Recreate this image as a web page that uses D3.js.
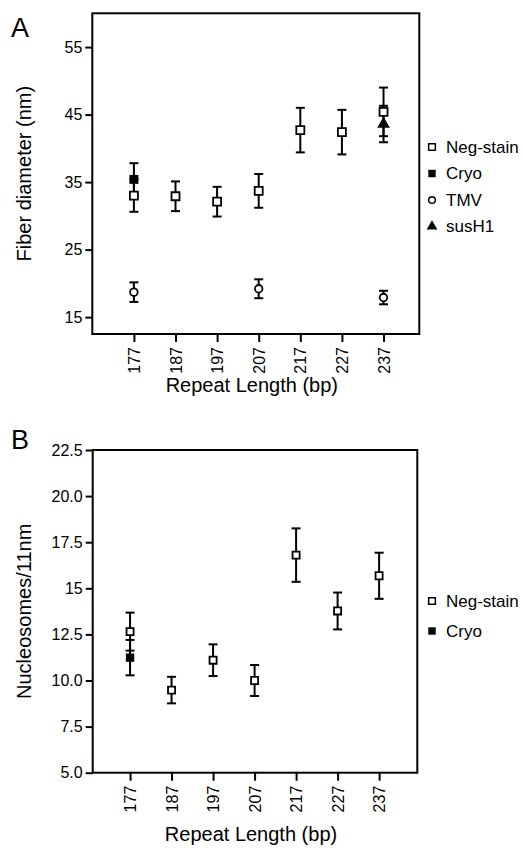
<!DOCTYPE html>
<html>
<head>
<meta charset="utf-8">
<script src="https://cdn.jsdelivr.net/npm/d3@7"></script>
<style>
  body { margin: 0; background: #fff; }
  svg { display: block; font-family: "Liberation Sans", Arial, sans-serif; }
</style>
</head>
<body>
<svg id="chart" width="523" height="848"></svg>
<script>
// repeat lengths (x categories)
const repeatLengths = [177, 187, 197, 207, 217, 227, 237];

// panel A: fiber diameter (nm)
const fiberNegStain = [33.0, 32.9, 32.1, 33.7, 42.7, 42.4, 45.4];
const fiberNegStainErr = [2.4, 2.2, 2.2, 2.5, 3.3, 3.3, 3.6];
const fiberCryoX = [177];
const fiberCryo = [35.4];
const fiberCryoErr = [2.4];
const fiberTmvX = [177, 207, 237];
const fiberTmv = [18.7, 19.2, 17.9];
const fiberTmvErr = [1.45, 1.4, 1.0];
const fiberSusH1X = [237];
const fiberSusH1 = [43.6];
const fiberSusH1Err = [2.7];
const fiberTicks = [15, 25, 35, 45, 55];
const fiberTickLabels = ['15', '25', '35', '45', '55'];

// panel B: nucleosomes per 11 nm
const nucNegStain = [12.65, 9.48, 11.1, 10.0, 16.8, 13.77, 15.68];
const nucNegStainErr = [1.03, 0.72, 0.86, 0.84, 1.45, 1.0, 1.25];
const nucCryoX = [177];
const nucCryo = [11.24];
const nucCryoErr = [0.96];
const nucTicks = [5, 7.5, 10, 12.5, 15, 17.5, 20, 22.5];
const nucTickLabels = ['5.0', '7.5', '10.0', '12.5', '15', '17.5', '20.0', '22.5'];

const svg = d3.select('#chart');

const zip = (xs, ys, es) => xs.map((x, i) => ({ x, y: ys[i], e: es[i] }));

function symbolPath(type, size) {
  return d3.symbol().type(type).size(size)();
}

function drawPanel(opts) {
  const { left, top, right, bottom } = opts.frame;
  const x = d3.scaleLinear().domain(opts.xDomain).range([left, right]);
  const y = d3.scaleLinear().domain(opts.yDomain).range([bottom, top]);

  const g = svg.append('g');

  // y axis
  const yAxis = g.append('g')
    .attr('transform', `translate(${left},0)`)
    .call(d3.axisLeft(y).tickValues(opts.yTicks)
      .tickFormat((d, i) => opts.yTickLabels[i]).tickSize(7).tickPadding(3));
  yAxis.select('.domain').remove();
  yAxis.selectAll('line').attr('stroke', '#000').attr('stroke-width', 2);
  yAxis.selectAll('text').attr('font-size', 16).attr('fill', '#000')
    .attr('font-family', '"Liberation Sans", Arial, sans-serif');

  // x axis
  const xAxis = g.append('g')
    .attr('transform', `translate(0,${bottom})`)
    .call(d3.axisBottom(x).tickValues(repeatLengths).tickFormat(d3.format('d')).tickSize(8));
  xAxis.select('.domain').remove();
  xAxis.selectAll('line').attr('stroke', '#000').attr('stroke-width', 2);
  xAxis.selectAll('text')
    .attr('font-size', 16).attr('fill', '#000')
    .attr('font-family', '"Liberation Sans", Arial, sans-serif')
    .attr('text-anchor', 'end')
    .attr('transform', 'rotate(-90)')
    .attr('x', -13).attr('y', 0).attr('dy', '0.35em');

  // frame
  g.append('rect')
    .attr('x', left).attr('y', top)
    .attr('width', right - left).attr('height', bottom - top)
    .attr('fill', 'none').attr('stroke', '#000').attr('stroke-width', 2);

  // error bars + markers
  opts.series.forEach(s => {
    const pts = s.points;
    const eb = g.append('g').attr('stroke', '#000').attr('stroke-width', 2);
    eb.selectAll('line.v').data(pts).join('line').attr('class', 'v')
      .attr('x1', d => x(d.x)).attr('x2', d => x(d.x))
      .attr('y1', d => y(d.y + d.e)).attr('y2', d => y(d.y - d.e));
    ['+', '-'].forEach(sign => {
      eb.selectAll('line.c' + (sign === '+' ? 'u' : 'l')).data(pts).join('line')
        .attr('class', 'c' + (sign === '+' ? 'u' : 'l'))
        .attr('x1', d => x(d.x) - 4.5).attr('x2', d => x(d.x) + 4.5)
        .attr('y1', d => y(sign === '+' ? d.y + d.e : d.y - d.e))
        .attr('y2', d => y(sign === '+' ? d.y + d.e : d.y - d.e));
    });
  });
  opts.series.forEach(s => {
    g.selectAll(null).data(s.points).join('path')
      .attr('transform', d => `translate(${x(d.x)},${y(d.y)})`)
      .attr('d', symbolPath(s.type, s.size))
      .attr('fill', s.filled ? '#000' : '#fff')
      .attr('stroke', '#000').attr('stroke-width', s.filled ? 0 : 1.8);
  });

  // axis titles
  g.append('text')
    .attr('transform', `translate(${opts.yTitleX},${(top + bottom) / 2}) rotate(-90)`)
    .attr('text-anchor', 'middle').attr('font-size', 20)
    .text(opts.yTitle);
  g.append('text')
    .attr('x', (left + right) / 2 - 4).attr('y', opts.xTitleY)
    .attr('text-anchor', 'middle').attr('font-size', 20)
    .text('Repeat Length (bp)');

  // panel letter
  g.append('text').attr('x', 11).attr('y', opts.letterY)
    .attr('font-size', 27).text(opts.letter);

  // legend
  const lg = g.append('g');
  opts.series.forEach((s, i) => {
    const ly = opts.legendY + i * opts.legendStep;
    lg.append('path')
      .attr('transform', `translate(432,${ly})`)
      .attr('d', symbolPath(s.type, s.legendSize))
      .attr('fill', s.filled ? '#000' : '#fff')
      .attr('stroke', '#000').attr('stroke-width', s.filled ? 0 : 1.5);
    lg.append('text').attr('x', 446).attr('y', ly).attr('dy', '0.35em')
      .attr('font-size', 17).text(s.name);
  });
}

drawPanel({
  letter: 'A', letterY: 37,
  frame: { left: 92.3, top: 13.3, right: 419.3, bottom: 334 },
  xDomain: [167, 245.6], yDomain: [12.5, 60],
  yTicks: fiberTicks, yTickLabels: fiberTickLabels,
  yTitle: 'Fiber diameter (nm)', yTitleX: 31, xTitleY: 392,
  legendY: 147, legendStep: 26.5,
  series: [
    { name: 'Neg-stain', type: d3.symbolSquare, size: 64, legendSize: 45, filled: false,
      points: zip(repeatLengths, fiberNegStain, fiberNegStainErr) },
    { name: 'Cryo', type: d3.symbolSquare, size: 80, legendSize: 55, filled: true,
      points: zip(fiberCryoX, fiberCryo, fiberCryoErr) },
    { name: 'TMV', type: d3.symbolCircle, size: 45, legendSize: 35, filled: false,
      points: zip(fiberTmvX, fiberTmv, fiberTmvErr) },
    { name: 'susH1', type: d3.symbolTriangle, size: 70, legendSize: 50, filled: true,
      points: zip(fiberSusH1X, fiberSusH1, fiberSusH1Err) }
  ]
});

drawPanel({
  letter: 'B', letterY: 449,
  frame: { left: 92.7, top: 450, right: 417.3, bottom: 772.7 },
  xDomain: [168, 246.2], yDomain: [5, 22.5],
  yTicks: nucTicks, yTickLabels: nucTickLabels,
  yTitle: 'Nucleosomes/11nm', yTitleX: 31, xTitleY: 841,
  legendY: 601, legendStep: 30,
  series: [
    { name: 'Neg-stain', type: d3.symbolSquare, size: 50, legendSize: 45, filled: false,
      points: zip(repeatLengths, nucNegStain, nucNegStainErr) },
    { name: 'Cryo', type: d3.symbolSquare, size: 70, legendSize: 55, filled: true,
      points: zip(nucCryoX, nucCryo, nucCryoErr) }
  ]
});
</script>
</body>
</html>
